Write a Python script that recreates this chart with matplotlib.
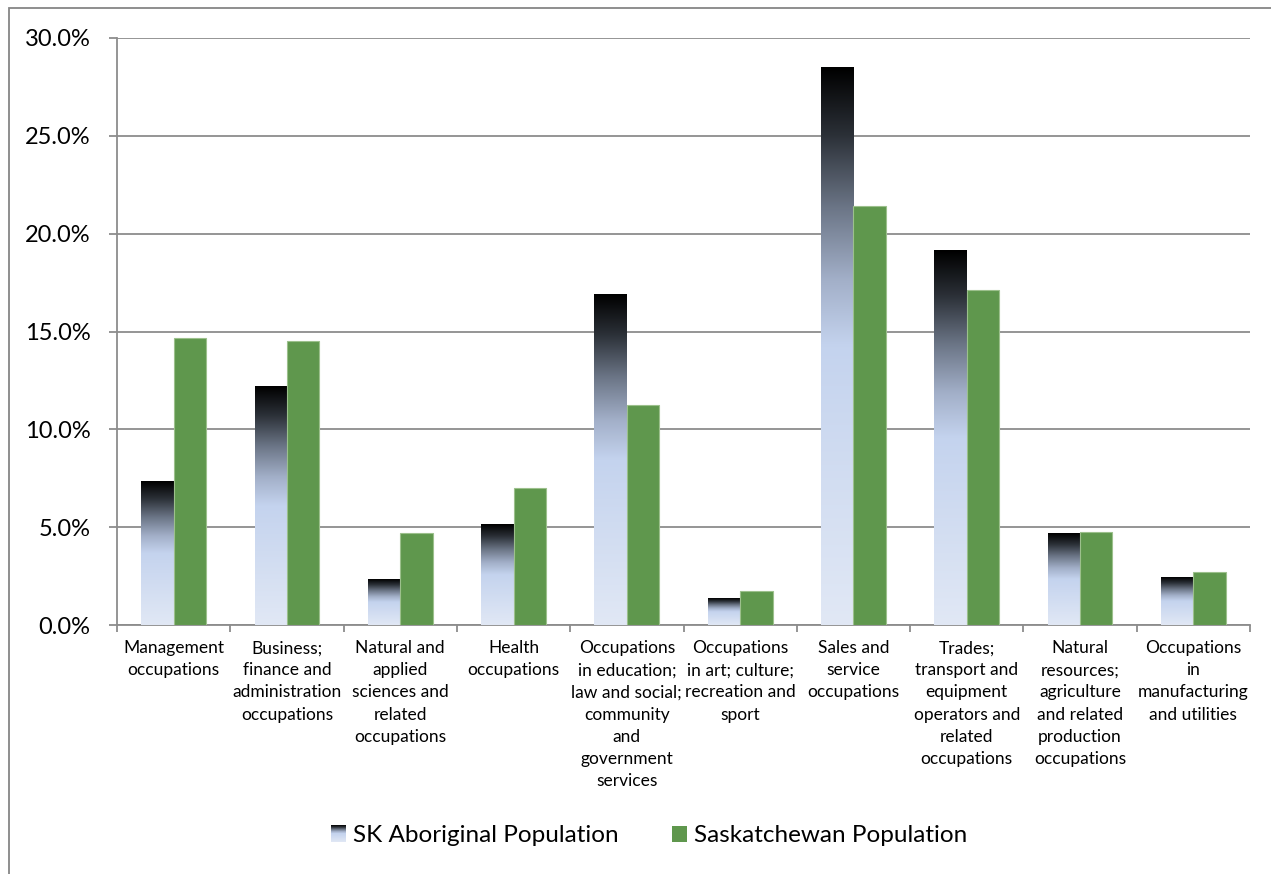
import numpy as np
import matplotlib
matplotlib.use("Agg")
import matplotlib.pyplot as plt
from matplotlib.colors import LinearSegmentedColormap
from matplotlib.legend_handler import HandlerBase
from matplotlib.image import BboxImage
from matplotlib.transforms import Bbox, TransformedBbox
from matplotlib.patches import Patch, Rectangle

categories = [
    "Management\noccupations",
    "Business;\nfinance and\nadministration\noccupations",
    "Natural and\napplied\nsciences and\nrelated\noccupations",
    "Health\noccupations",
    "Occupations\nin education;\nlaw and social;\ncommunity\nand\ngovernment\nservices",
    "Occupations\nin art; culture;\nrecreation and\nsport",
    "Sales and\nservice\noccupations",
    "Trades;\ntransport and\nequipment\noperators and\nrelated\noccupations",
    "Natural\nresources;\nagriculture\nand related\nproduction\noccupations",
    "Occupations\nin\nmanufacturing\nand utilities",
]
sk_aboriginal = [7.31, 12.18, 2.33, 5.16, 16.88, 1.35, 28.47, 19.14, 4.69, 2.43]
saskatchewan = [14.65, 14.53, 4.71, 6.98, 11.22, 1.75, 21.43, 17.10, 4.73, 2.73]
series_names = ["SK Aboriginal Population", "Saskatchewan Population"]
y_ticks = [0, 5, 10, 15, 20, 25, 30]

GREEN = "#5f974d"
GRID = "#8c8c8c"
grad_cmap = LinearSegmentedColormap.from_list(
    "sk", [(0.0, "#e1e8f5"), (0.5, "#c4d3ee"), (0.62, "#a2afc8"),
           (0.75, "#6b7586"), (0.88, "#2b3037"), (1.0, "#000000")])
grad = np.linspace(0, 1, 256).reshape(-1, 1)

plt.rcParams["font.family"] = ["Lato", "DejaVu Sans"]

fig = plt.figure(figsize=(12.71, 8.74), dpi=100)
ax = fig.add_axes([117 / 1271, 1 - 625 / 874, 1133 / 1271, 587 / 874])

# outer chart border
fig.patches.append(Rectangle((9 / 1271, -0.05), 1.2, 0.05 + 1 - 8 / 874,
                             transform=fig.transFigure, fill=False,
                             edgecolor="#868686", linewidth=1.3))

x = np.arange(len(categories))
w = 1 / 3.5

for xi, v in zip(x, sk_aboriginal):
    ax.imshow(grad, cmap=grad_cmap, origin="lower", aspect="auto",
              extent=(xi - w, xi, 0, v), interpolation="bicubic", zorder=3)
ax.bar(x + w / 2, saskatchewan, width=w, color=GREEN, edgecolor="#9cc08c",
       linewidth=0.8, zorder=3)

ax.set_xlim(-0.5, len(categories) - 0.5)
ax.set_ylim(0, 30)
ax.set_yticks(y_ticks)
ax.set_yticklabels([f"{t:.1f}%" for t in y_ticks], fontsize=17)
ax.set_xticks(x)
ax.set_xticklabels(categories, fontsize=12.5, linespacing=1.47, va="top")
ax.set_xticks(np.arange(len(categories) + 1) - 0.5, minor=True)
ax.tick_params(axis="x", which="major", length=0, pad=11)
ax.tick_params(axis="x", which="minor", length=5, color=GRID, width=1.3)
ax.tick_params(axis="y", length=6, color=GRID, width=1.3, pad=13)

ax.grid(axis="y", color=GRID, linewidth=1.3, zorder=0)
ax.set_axisbelow(True)
for side in ["top", "right"]:
    ax.spines[side].set_visible(False)
for side in ["left", "bottom"]:
    ax.spines[side].set_color(GRID)
    ax.spines[side].set_linewidth(1.3)


class GradientHandler(HandlerBase):
    def create_artists(self, legend, orig_handle, xdescent, ydescent,
                       width, height, fontsize, trans):
        bb = TransformedBbox(Bbox.from_bounds(-xdescent, -ydescent, width, height), trans)
        img = BboxImage(bb, cmap=grad_cmap, origin="lower", interpolation="bicubic")
        img.set_data(grad)
        return [img]


grad_handle = Patch(facecolor="#c4d3ee")
green_handle = Patch(facecolor=GREEN)
fig.legend([grad_handle, green_handle], series_names, loc="center",
           bbox_to_anchor=(649 / 1271, 1 - 836 / 874), ncol=2, frameon=False,
           fontsize=17.5, handlelength=0.6, handleheight=0.65,
           handletextpad=0.3, columnspacing=2.2,
           handler_map={grad_handle: GradientHandler()})

fig.savefig("out.png", dpi=100)
